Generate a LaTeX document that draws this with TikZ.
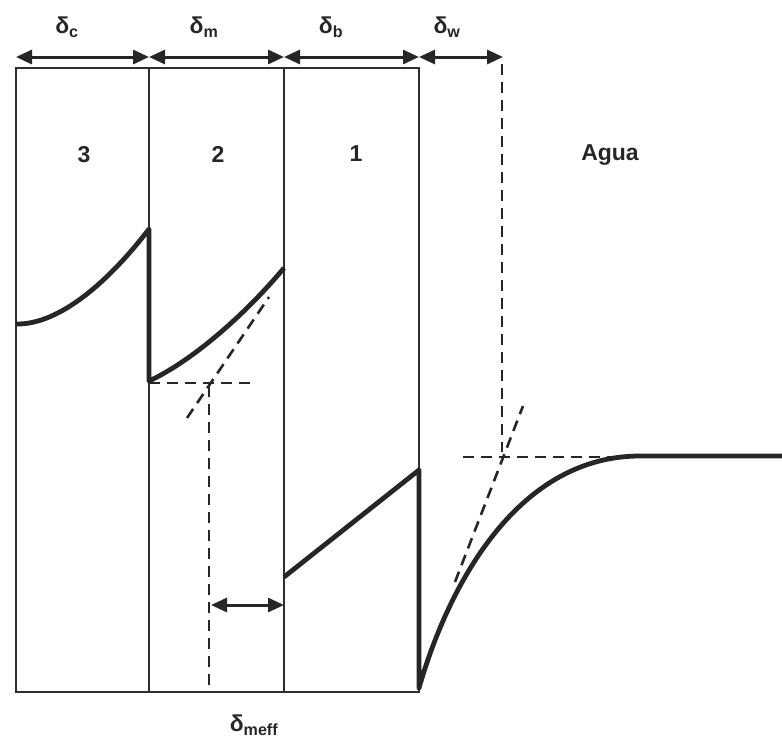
\documentclass[tikz,border=0pt]{standalone}
\usepackage{fontspec}
\setmainfont{Liberation Sans}
\usetikzlibrary{arrows.meta}
\begin{document}
\begin{tikzpicture}[x=1pt,y=-1pt,
  wall/.style={line width=2.8pt,draw=black!82},
  prof/.style={line width=4.8pt,draw=black!85,line join=round},
  dashline/.style={line width=2.6pt,draw=black!85,dash pattern=on 11pt off 7pt},
  dim/.style={line width=3pt,draw=black!85,{Triangle[length=16pt,width=14pt]}-{Triangle[length=16pt,width=14pt]}},
  lab/.style={font=\bfseries\fontsize{23}{26}\selectfont,text=black!85,inner sep=0pt}]
\useasboundingbox (0,0) rectangle (782,740);
% walls
\coordinate (A) at (16,68);
\coordinate (B) at (149,68);
\coordinate (C) at (284,68);
\coordinate (D) at (419,68);
\coordinate (Ab) at (16,692);
\coordinate (Bb) at (149,692);
\coordinate (Cb) at (284,692);
\coordinate (Db) at (419,692);
\draw[wall] (A) rectangle (Db);
\draw[wall] (B) -- (Bb);
\draw[wall] (C) -- (Cb);
% dimension arrows
\coordinate (a0) at (16,57);
\coordinate (a1) at (149,57);
\coordinate (a2) at (284,57);
\coordinate (a3) at (419,57);
\coordinate (a4) at (503,57);
\draw[dim] (a0) -- (a1);
\draw[dim] (a1) -- (a2);
\draw[dim] (a2) -- (a3);
\draw[dim] (a3) -- (a4);
\node[lab] (dc) at (67,27) {δ\textsubscript{c}};
\node[lab] (dm) at (204,27) {δ\textsubscript{m}};
\node[lab] (db) at (331,27) {δ\textsubscript{b}};
\node[lab] (dw) at (447,27) {δ\textsubscript{w}};
\node[lab] (n3) at (84,155) {3};
\node[lab] (n2) at (218,154) {2};
\node[lab] (n1) at (356,154) {1};
\node[lab] (agua) at (610,155) {Agua};
\node[lab] (dmeff) at (254,725) {δ\textsubscript{meff}};
% profile
\coordinate (p0) at (16,324);
\coordinate (p1) at (149,229);
\coordinate (p2) at (149,381);
\coordinate (p3) at (284,268);
\coordinate (p4) at (284,577);
\coordinate (p5) at (419,470);
\coordinate (p6) at (419,688);
\coordinate (p7) at (640,456);
\coordinate (p8) at (782,456);
\draw[prof] (p0) .. controls (60,325) and (110,280) .. (p1) -- (p2)
  .. controls (190,362) and (242,318) .. (p3);
\draw[prof] (p4) -- (p5) -- (p6) .. controls (450,580) and (520,456) .. (p7) -- (p8);
% dashed construction lines
\coordinate (h0) at (149,383);
\coordinate (h1) at (250,383);
\draw[dashline] (h0) -- (h1);
\coordinate (t0) at (187,418);
\coordinate (t1) at (269,297);
\draw[dashline] (t0) -- (t1);
\coordinate (v0) at (209,386);
\coordinate (v1) at (209,692);
\draw[dashline] (v0) -- (v1);
\coordinate (m0) at (211,605);
\coordinate (m1) at (284,605);
\draw[dim] (m0) -- (m1);
\coordinate (w0) at (502,64);
\coordinate (w1) at (502,452);
\draw[dashline] (w0) -- (w1);
\coordinate (wh0) at (463,457);
\coordinate (wh1) at (640,457);
\draw[dashline] (wh0) -- (wh1);
\coordinate (wt0) at (455,582);
\coordinate (wt1) at (523,406);
\draw[dashline] (wt0) -- (wt1);
\end{tikzpicture}
\end{document}
